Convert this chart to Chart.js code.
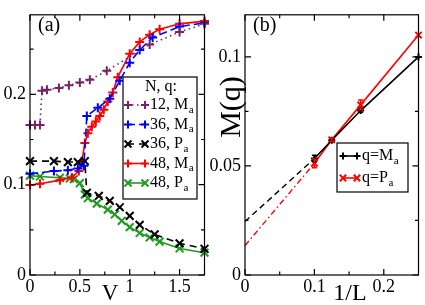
<!DOCTYPE html>
<html>
<head>
<meta charset="utf-8">
<script src="https://cdn.jsdelivr.net/npm/chart.js@4/dist/chart.umd.min.js"></script>
<style>
  html, body { margin: 0; padding: 0; background: #fff; }
  #wrap { position: relative; width: 425px; height: 305px; overflow: hidden; }
  .panel { position: absolute; top: 0; height: 305px; }
</style>
</head>
<body>
<div id="wrap">
  <div class="panel" style="left:0;width:212px"><canvas id="chartA"></canvas></div>
  <div class="panel" style="left:190px;width:235px"><canvas id="chartB"></canvas></div>
</div>
<script>
// ---- panel (a): order parameter against V ----
const vTicks = [0, 0.5, 1, 1.5];
const vMinor = [0.25, 0.75, 1.25];
const mTicks = [0, 0.1, 0.2];
const mMinor = [0.05, 0.15, 0.25];

const v12Ma = [0, 0.05, 0.1, 0.12, 0.17, 0.29, 0.39, 0.5, 0.6, 0.77, 1.2, 1.5, 1.75];
const m12Ma = [0.166, 0.166, 0.166, 0.204, 0.205, 0.207, 0.210, 0.213, 0.216, 0.226, 0.255, 0.269, 0.278];

const v36Ma = [0, 0.24, 0.38, 0.48, 0.54, 0.57, 0.68, 0.8, 0.9, 1.0, 1.1, 1.23, 1.5, 1.75];
const m36Ma = [0.112, 0.115, 0.116, 0.118, 0.121, 0.176, 0.185, 0.195, 0.215, 0.235, 0.249, 0.263, 0.275, 0.279];

const v36Pa = [0, 0.24, 0.38, 0.48, 0.55, 0.57, 0.69, 0.8, 0.9, 1.0, 1.1, 1.25, 1.5, 1.75];
const m36Pa = [0.126, 0.126, 0.125, 0.125, 0.126, 0.091, 0.0875, 0.082, 0.075, 0.0655, 0.0555, 0.045, 0.035, 0.029];

const v48Ma = [0, 0.1, 0.3, 0.42, 0.49, 0.52, 0.55, 0.58, 0.62, 0.66, 0.70, 0.74, 0.78, 0.83, 0.88, 1.0, 1.1, 1.2, 1.3, 1.5, 1.75];
const m48Ma = [0.0995, 0.101, 0.105, 0.108, 0.115, 0.126, 0.146, 0.157, 0.164, 0.170, 0.176, 0.183, 0.192, 0.202, 0.219, 0.245, 0.258, 0.266, 0.272, 0.278, 0.281];

const v48Pa = [0, 0.1, 0.3, 0.4, 0.44, 0.5, 0.55, 0.58, 0.67, 0.78, 0.85, 0.92, 1.0, 1.1, 1.2, 1.3, 1.5, 1.75];
const m48Pa = [0.110, 0.109, 0.1076, 0.107, 0.106, 0.1016, 0.089, 0.085, 0.079, 0.0723, 0.067, 0.060, 0.053, 0.0465, 0.0415, 0.037, 0.0293, 0.0247];

// ---- panel (b): M(q) against 1/L ----
const lTicks = [0, 0.1, 0.2];
const lMinor = [0.05, 0.15];
const qTicks = [0, 0.05, 0.1];
const qMinor = [0.025, 0.075];

const invL = [0.1, 0.125, 0.1667, 0.25];
const mqMa = [0.0534, 0.0618, 0.0754, 0.1];
const mqPa = [0.0512, 0.0620, 0.078, 0.110];
const errMa = [0.0015, 0.0006, 0.0008, 0];
const errPa = [0.002, 0.0008, 0.0022, 0];
const extL = [0, 0.1];
const extMa = [0.0245, 0.0534];
const extPa = [0.0135, 0.0512];

const SERIF = "'Liberation Serif', 'Times New Roman', serif";
const PURPLE = '#772366', BLUE = '#0000ff', RED = '#ff0000', GREEN = '#1f9c1f';

const pts = (xs, ys) => xs.map((x, i) => ({ x: x, y: ys[i] }));

function series(label, sub, xs, ys, color, dash, style, r) {
  return {
    label: label, sub: sub, data: pts(xs, ys),
    borderColor: color, backgroundColor: color, borderWidth: 1.6, borderDash: dash,
    pointStyle: style, pointRadius: r, pointHoverRadius: r, pointBorderWidth: 2,
    pointBorderColor: color, tension: 0, fill: false, clip: false
  };
}

function axis(pos, min, max, ticks, size) {
  const horiz = pos === 'bottom';
  return {
    type: 'linear', position: pos, min: min, max: max,
    grid: { display: false, drawTicks: false },
    border: { display: false },
    ticks: {
      color: '#000', font: { family: SERIF, size: 18 }, padding: horiz ? 1 : 4,
      autoSkip: false, maxRotation: 0, callback: v => String(v)
    },
    afterBuildTicks: s => { s.ticks = ticks.map(v => ({ value: v })); },
    afterFit: s => { if (horiz) s.height = size; else s.width = size; }
  };
}

// frame with inward ticks, error bars, boxed legend and labels
const decor = {
  id: 'decor',
  afterDatasetsDraw(chart, args, o) {
    const ctx = chart.ctx, a = chart.chartArea;
    const xs = chart.scales.x, ys = chart.scales.y;
    ctx.save();
    ctx.strokeStyle = '#000';
    ctx.lineWidth = 1.2;
    ctx.setLineDash([]);
    ctx.strokeRect(a.left, a.top, a.right - a.left, a.bottom - a.top);
    ctx.beginPath();
    const tx = (vals, len) => vals.forEach(v => {
      const p = xs.getPixelForValue(v);
      ctx.moveTo(p, a.bottom); ctx.lineTo(p, a.bottom - len);
      ctx.moveTo(p, a.top); ctx.lineTo(p, a.top + len);
    });
    const ty = (vals, len) => vals.forEach(v => {
      const p = ys.getPixelForValue(v);
      ctx.moveTo(a.left, p); ctx.lineTo(a.left + len, p);
      ctx.moveTo(a.right, p); ctx.lineTo(a.right - len, p);
    });
    tx(o.xMajor, 6); tx(o.xMinor, 3.5);
    ty(o.yMajor, 6); ty(o.yMinor, 3.5);
    ctx.stroke();

    // error bars
    chart.data.datasets.forEach(ds => {
      if (!ds.errors) return;
      ctx.strokeStyle = ds.borderColor;
      ctx.lineWidth = 1.5;
      ctx.beginPath();
      ds.data.forEach((d, i) => {
        const e = ds.errors[i];
        if (!e) return;
        const px = xs.getPixelForValue(d.x);
        const y0 = ys.getPixelForValue(d.y - e), y1 = ys.getPixelForValue(d.y + e);
        ctx.moveTo(px, y0); ctx.lineTo(px, y1);
        ctx.moveTo(px - 2.5, y0); ctx.lineTo(px + 2.5, y0);
        ctx.moveTo(px - 2.5, y1); ctx.lineTo(px + 2.5, y1);
      });
      ctx.stroke();
    });

    // legend
    const L = o.legend;
    ctx.fillStyle = '#fff';
    ctx.fillRect(L.x, L.y, L.w, L.h);
    ctx.strokeStyle = '#000';
    ctx.lineWidth = 1.2;
    ctx.strokeRect(L.x, L.y, L.w, L.h);
    ctx.fillStyle = '#000';
    ctx.textBaseline = 'middle';
    if (L.title) {
      ctx.font = '16px ' + SERIF;
      ctx.textAlign = 'center';
      ctx.fillText(L.title, L.titleX, L.titleY);
    }
    ctx.textAlign = 'left';
    let row = 0;
    chart.data.datasets.forEach(ds => {
      if (!ds.label) return;
      const y = L.rowY + row * L.rowH;
      row++;
      ctx.strokeStyle = ds.borderColor;
      ctx.lineWidth = ds.borderWidth;
      ctx.setLineDash(ds.borderDash || []);
      ctx.beginPath(); ctx.moveTo(L.x0, y); ctx.lineTo(L.x1, y); ctx.stroke();
      ctx.setLineDash([]);
      ctx.lineWidth = ds.pointBorderWidth;
      [L.x0 + 1, L.x1 - 1].forEach(px => Chart.helpers.drawPoint(ctx,
        { pointStyle: ds.pointStyle, radius: ds.pointRadius * L.scale, borderWidth: ds.pointBorderWidth, rotation: 0 }, px, y));
      ctx.fillStyle = '#000';
      ctx.font = '16px ' + SERIF;
      ctx.fillText(ds.label, L.textX, y);
      const w = ctx.measureText(ds.label).width;
      ctx.font = '11px ' + SERIF;
      ctx.fillText(ds.sub, L.textX + w + 0.5, y + 5);
    });

    // panel label and axis titles
    ctx.fillStyle = '#000';
    ctx.textBaseline = 'alphabetic';
    ctx.textAlign = 'left';
    ctx.font = '20px ' + SERIF;
    ctx.fillText(o.panel.text, o.panel.x, o.panel.y);
    ctx.textAlign = 'center';
    ctx.font = o.xTitle.size + 'px ' + SERIF;
    ctx.fillText(o.xTitle.text, o.xTitle.x, o.xTitle.y);
    if (o.yTitle) {
      ctx.save();
      ctx.translate(o.yTitle.x, o.yTitle.y);
      ctx.rotate(-Math.PI / 2);
      ctx.font = o.yTitle.size + 'px ' + SERIF;
      ctx.fillText(o.yTitle.text, 0, 0);
      ctx.restore();
    }
    ctx.restore();
  }
};

const base = {
  animation: false, responsive: true, maintainAspectRatio: false, events: [],
  plugins: { legend: { display: false }, tooltip: { enabled: false } }
};

new Chart(document.getElementById('chartA'), {
  type: 'line',
  data: {
    datasets: [
      series('12, M', 'a', v12Ma, m12Ma, PURPLE, [1.5, 3.5], 'cross', 4.5),
      series('36, M', 'a', v36Ma, m36Ma, BLUE, [8, 4], 'cross', 4.5),
      series('36, P', 'a', v36Pa, m36Pa, '#000', [7, 5], 'crossRot', 5.5),
      series('48, M', 'a', v48Ma, m48Ma, RED, [], 'cross', 4.5),
      series('48, P', 'a', v48Pa, m48Pa, GREEN, [], 'crossRot', 5.5)
    ]
  },
  options: Object.assign({}, base, {
    layout: { padding: { left: 0, right: 7, top: 3, bottom: 0 } },
    scales: { x: axis('bottom', 0, 1.75, vTicks, 30), y: axis('left', 0, 0.288, mTicks, 30) },
    plugins: Object.assign({}, base.plugins, {
      decor: {
        xMajor: vTicks, xMinor: vMinor, yMajor: mTicks, yMinor: mMinor,
        legend: { x: 123, y: 77, w: 74, h: 122, title: 'N, q:', titleX: 161, titleY: 87,
                  rowY: 105, rowH: 19.5, x0: 127, x1: 146, textX: 150, scale: 0.9 },
        panel: { text: '(a)', x: 38, y: 31 },
        xTitle: { text: 'V', x: 110, y: 300, size: 23 }
      }
    })
  }),
  plugins: [decor]
});

const dsMa = series('q=M', 'a', invL, mqMa, '#000', [], 'cross', 3.5);
dsMa.errors = errMa;
const dsPa = series('q=P', 'a', invL, mqPa, RED, [], 'crossRot', 4.5);
dsPa.errors = errPa;
const extrap = (ys, color, dash) => ({
  data: pts(extL, ys), borderColor: color, borderWidth: 1.4, borderDash: dash,
  pointRadius: 0, tension: 0, fill: false, clip: false
});

new Chart(document.getElementById('chartB'), {
  type: 'line',
  data: {
    datasets: [
      extrap(extMa, '#000', [6, 4]),
      extrap(extPa, RED, [6, 3, 1.5, 3]),
      dsMa,
      dsPa
    ]
  },
  options: Object.assign({}, base, {
    layout: { padding: { left: 0, right: 5, top: 3, bottom: 0 } },
    scales: { x: axis('bottom', 0, 0.25, lTicks, 30), y: axis('left', 0, 0.1193, qTicks, 55) },
    plugins: Object.assign({}, base.plugins, {
      decor: {
        xMajor: lTicks, xMinor: lMinor, yMajor: qTicks, yMinor: qMinor,
        legend: { x: 147, y: 143, w: 71, h: 49, rowY: 156, rowH: 22, x0: 152, x1: 168, textX: 172, scale: 1 },
        panel: { text: '(b)', x: 63, y: 31 },
        xTitle: { text: '1/L', x: 160, y: 300, size: 24 },
        yTitle: { text: 'M(q)', x: 50, y: 107, size: 30 }
      }
    })
  }),
  plugins: [decor]
});
</script>
</body>
</html>
